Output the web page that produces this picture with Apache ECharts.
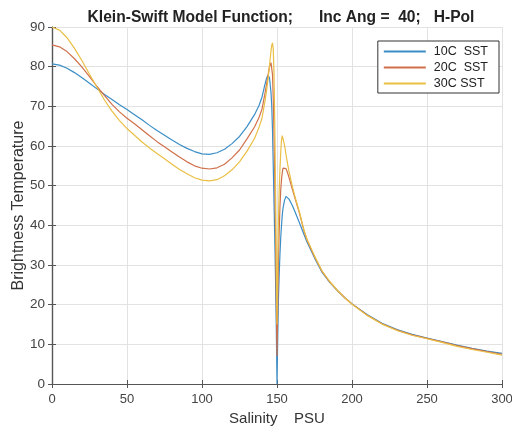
<!DOCTYPE html>
<html>
<head>
<meta charset="utf-8">
<script src="https://cdn.jsdelivr.net/npm/echarts@6/dist/echarts.min.js"></script>
<style>
  html, body { margin: 0; padding: 0; background: #fff; }
  #chart { width: 512px; height: 430px; }
</style>
</head>
<body>
<div id="chart"></div>
<script>
// salinity (PSU) sample points
var salinity = [
  0, 5, 10, 15, 20, 25, 30, 35, 40, 45, 50, 55, 60, 65, 70, 75, 80, 85, 90, 95,
  100, 105, 110, 115, 120, 125, 130, 135, 138, 140, 142, 143, 144, 145, 146, 146.5,
  147, 147.5, 148, 148.5, 149, 149.5, 150, 150.5, 151, 151.5, 152, 152.5, 153, 153.5,
  154, 155, 156, 157, 158, 160, 162, 165, 168, 170, 175, 180, 185, 190, 195, 200,
  210, 220, 230, 240, 250, 260, 270, 280, 290, 300
];
// brightness temperature, 10C SST
var tb10 = [
  80.7, 80.4, 79.6, 78.5, 77.2, 75.8, 74.4, 73.0, 71.7, 70.4, 69.2, 67.9, 66.6, 65.2, 63.9, 62.7, 61.5, 60.4, 59.4, 58.6,
  58.0, 57.9, 58.3, 59.2, 60.6, 62.4, 64.9, 67.9, 70.2, 72.3, 75.6, 77.0, 77.9, 77.2, 73.5, 70.0,
  64.0, 55.0, 46.0, 37.0, 27.0, 15.0, 0, 12.0, 22.0, 28.0, 33.0, 37.0, 40.0, 42.5,
  44.3, 46.3, 47.3, 47.2, 46.6, 45.2, 43.4, 40.6, 37.7, 35.8, 31.8, 28.2, 25.7, 23.6, 21.8, 20.2,
  17.5, 15.3, 13.7, 12.5, 11.6, 10.7, 9.8, 9.0, 8.3, 7.7
];
// brightness temperature, 20C SST
var tb20 = [
  85.5, 85.0, 83.8, 82.0, 79.9, 77.5, 75.0, 72.7, 70.5, 68.6, 67.0, 65.6, 64.1, 62.6, 61.1, 59.8, 58.5, 57.2, 56.0, 55.0,
  54.4, 54.2, 54.5, 55.4, 57.0, 59.0, 61.8, 64.8, 67.2, 69.3, 73.3, 75.5, 77.8, 80.0, 81.0, 80.5,
  78.0, 72.0, 63.0, 52.0, 38.0, 22.0, 7.0, 20.0, 32.0, 39.0, 45.0, 49.0, 51.5, 53.3,
  54.4, 54.9, 54.3, 53.3, 52.1, 49.4, 46.8, 43.0, 38.6, 36.3, 32.1, 28.4, 25.8, 23.7, 21.8, 20.2,
  17.4, 15.2, 13.6, 12.4, 11.5, 10.6, 9.7, 8.9, 8.2, 7.5
];
// brightness temperature, 30C SST
var tb30 = [
  90.0, 89.2, 87.3, 84.6, 81.5, 78.1, 74.8, 71.6, 68.8, 66.4, 64.4, 62.7, 61.0, 59.5, 58.1, 56.8, 55.4, 54.1, 53.0, 52.0,
  51.4, 51.2, 51.5, 52.5, 54.0, 56.0, 58.7, 61.9, 64.7, 67.0, 71.3, 73.8, 76.8, 80.3, 84.0, 85.4,
  86.0, 84.5, 78.0, 66.0, 50.0, 32.0, 15.0, 30.0, 42.0, 49.0, 54.5, 58.5, 61.5, 62.6,
  62.2, 60.2, 57.8, 55.6, 53.6, 50.2, 47.2, 43.3, 38.8, 36.5, 32.3, 28.5, 25.9, 23.7, 21.8, 20.1,
  17.3, 15.1, 13.5, 12.3, 11.4, 10.5, 9.5, 8.7, 8.0, 7.3
];
var seriesNames = ['10C  SST', '20C  SST', '30C SST'];
var seriesColors = ['#3b8ec6', '#d0704a', '#eabf45'];
var xTicks = [0, 50, 100, 150, 200, 250, 300];

function pairs(ys) {
  var out = [];
  for (var i = 0; i < salinity.length; i++) out.push([salinity[i], ys[i]]);
  return out;
}

var chart = echarts.init(document.getElementById('chart'), null, { renderer: 'canvas' });
var font = 'Liberation Sans';
var axisCommon = {
  axisLine: { show: true, lineStyle: { color: '#555', width: 1.2 } },
  axisTick: { show: true, inside: true, length: 4, lineStyle: { color: '#555' } }
};
var option = {
  animation: false,
  backgroundColor: '#fff',
  color: seriesColors,
  title: {
    text: 'Klein-Swift Model Function;      Inc Ang =  40;   H-Pol',
    left: 276, top: 5, textAlign: 'center',
    textStyle: { fontFamily: font, fontSize: 15.6, fontWeight: 'bold', color: '#222' }
  },
  legend: {
    data: seriesNames,
    orient: 'vertical',
    right: 13, top: 41,
    backgroundColor: '#fff',
    borderColor: '#333', borderWidth: 1,
    padding: [4, 11, 3, 6],
    itemGap: 3,
    itemWidth: 42, itemHeight: 2,
    icon: 'rect',
    textStyle: { fontFamily: font, fontSize: 12.5, color: '#222', padding: [0, 0, 0, 3] }
  },
  grid: { left: 52, right: 10, top: 27, bottom: 46, containLabel: false, outerBoundsMode: 'none' },
  xAxis: [
    Object.assign({
      type: 'value', min: 0, max: 300, interval: 50,
      name: 'Salinity    PSU', nameLocation: 'middle', nameGap: 27,
      nameTextStyle: { fontFamily: font, fontSize: 15, color: '#333' },
      axisLabel: { fontFamily: font, fontSize: 13, color: '#444', margin: 9, hideOverlap: false,
        formatter: function (v) { return xTicks.indexOf(v) >= 0 ? String(v) : ''; } },
      splitLine: { show: true, lineStyle: { color: '#e2e2e2', width: 1 } }
    }, axisCommon),
    Object.assign({
      type: 'value', min: 0, max: 300, interval: 50, position: 'top',
      axisLabel: { show: false }, splitLine: { show: false }
    }, axisCommon)
  ],
  yAxis: [
    Object.assign({
      type: 'value', min: 0, max: 90, interval: 10,
      name: 'Brightness Temperature', nameLocation: 'middle', nameGap: 25,
      nameMoveOverlap: false,
      nameTextStyle: { fontFamily: font, fontSize: 16, color: '#333' },
      axisLabel: { fontFamily: font, fontSize: 13.5, color: '#444', margin: 7 },
      splitLine: { show: true, lineStyle: { color: '#e2e2e2', width: 1 } }
    }, axisCommon),
    Object.assign({
      type: 'value', min: 0, max: 90, interval: 10, position: 'right',
      axisLabel: { show: false }, splitLine: { show: false }
    }, axisCommon)
  ],
  series: [tb10, tb20, tb30].map(function (ys, i) {
    return {
      name: seriesNames[i],
      type: 'line',
      data: pairs(ys),
      showSymbol: false,
      symbol: 'none',
      lineStyle: { width: 1.2, color: seriesColors[i] },
      itemStyle: { color: seriesColors[i] }
    };
  })
};
chart.setOption(option);
</script>
</body>
</html>
